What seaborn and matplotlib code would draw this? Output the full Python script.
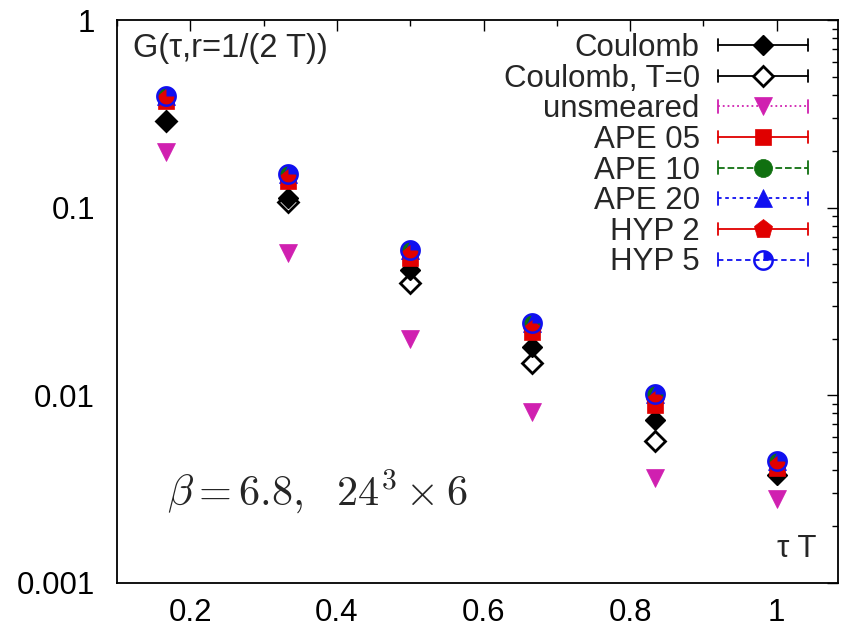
import numpy as np
import pandas as pd
import matplotlib
matplotlib.use("Agg")
import matplotlib.pyplot as plt
import seaborn as sns
from matplotlib.lines import Line2D
from matplotlib.path import Path
from matplotlib.legend_handler import HandlerLine2D
from matplotlib.ticker import FixedLocator, FuncFormatter, MultipleLocator, LogLocator, NullFormatter

# ---------------- data ----------------
tauT = [1/6, 2/6, 3/6, 4/6, 5/6, 1.0]
coulomb    = [0.289, 0.112, 0.0463, 0.0180, 0.0074, 0.00377]
coulomb_T0 = [0.289, 0.107, 0.0399, 0.0149, 0.0057, np.nan]
unsmeared  = [0.197, 0.057, 0.0200, 0.0081, 0.0036, 0.0028]
ape05      = [0.370, 0.138, 0.0536, 0.0216, 0.0089, 0.0041]
ape10      = [0.393, 0.152, 0.0592, 0.0244, 0.0101, 0.00448]
ape20      = [0.393, 0.152, 0.0592, 0.0244, 0.0101, 0.00448]
hyp2       = [0.380, 0.143, 0.0557, 0.0224, 0.0093, 0.0042]
hyp5       = [0.393, 0.152, 0.0592, 0.0244, 0.0101, 0.00448]

labels = ["Coulomb", "Coulomb, T=0", "unsmeared", "APE 05", "APE 10",
          "APE 20", "HYP 2", "HYP 5"]
xticks = [0.2, 0.4, 0.6, 0.8, 1.0]
yticks = [0.001, 0.01, 0.1, 1]

# ---------------- style ----------------
sns.set_theme(style="white")
plt.rcParams['font.family'] = ['Liberation Sans', 'DejaVu Sans']
plt.rcParams['mathtext.fontset'] = 'cm'

FS = 22.5

# half-filled circle marker (ring + filled upper-right quadrant)
def hyp5_marker():
    n = 64
    t = np.linspace(0, 2*np.pi, n)
    outer = np.c_[np.cos(t), np.sin(t)]
    inner = np.c_[0.76*np.cos(t[::-1]), 0.76*np.sin(t[::-1])]
    tw = np.linspace(0, np.pi/2, 20)
    wedge = np.vstack([[0, 0], np.c_[0.76*np.cos(tw), 0.76*np.sin(tw)], [0, 0]])
    verts, codes = [], []
    for poly in (outer, inner, wedge):
        verts.extend(poly.tolist())
        codes.extend([Path.MOVETO] + [Path.LINETO]*(len(poly)-2) + [Path.CLOSEPOLY])
    return Path(verts, codes)

HYP5M = hyp5_marker()

styles = [
    dict(color="black", ls="-", marker="D", ms=10, mfc="black", mec="black", mew=1.0),
    dict(color="black", ls="-", marker="D", ms=10, mfc="white", mec="black", mew=2.0),
    dict(color="#d020b0", ls=":", marker="v", ms=13, mfc="#d020b0", mec="#d020b0", mew=0.5),
    dict(color="#e00000", ls="-", marker="s", ms=12, mfc="#e00000", mec="#e00000", mew=0.5),
    dict(color="#107010", ls="--", marker="o", ms=13, mfc="#107010", mec="#107010", mew=0.5),
    dict(color="#1010f0", ls=(0, (2, 2)), marker="^", ms=13, mfc="#1010f0", mec="#1010f0", mew=0.5),
    dict(color="#e00000", ls="-", marker="p", ms=14, mfc="#e00000", mec="#e00000", mew=0.5),
    dict(color="#1010f0", ls=(0, (3, 2)), marker=HYP5M, ms=15, mfc="#1010f0", mec="#1010f0", mew=0.0),
]
series = [coulomb, coulomb_T0, unsmeared, ape05, ape10, ape20, hyp2, hyp5]
# drawing order: open T=0 diamonds below the filled Coulomb ones
draw_order = [1, 0, 2, 3, 4, 5, 6, 7]

fig = plt.figure(figsize=(8.54, 6.3), dpi=100)
ax = fig.add_axes([0.137, 0.075, 0.844, 0.893])

for i in draw_order:
    st = styles[i]
    df = pd.DataFrame({"x": tauT, "y": series[i]}).dropna()
    sns.lineplot(data=df, x="x", y="y", ax=ax, linestyle="none", legend=False,
                 marker=st["marker"], markersize=st["ms"],
                 markerfacecolor=st["mfc"], markeredgecolor=st["mec"],
                 markeredgewidth=st["mew"], color=st["color"], zorder=3)

ax.set_yscale("log")
ax.set_xlim(0.1, 1.0833)
ax.set_ylim(0.001, 1)
ax.xaxis.set_major_locator(FixedLocator(xticks))
ax.xaxis.set_minor_locator(MultipleLocator(0.1))
ax.xaxis.set_major_formatter(FuncFormatter(lambda v, p: f"{v:g}"))
ax.yaxis.set_major_locator(FixedLocator(yticks))
ax.yaxis.set_minor_locator(LogLocator(base=10, subs=np.arange(2, 10)))
ax.yaxis.set_minor_formatter(NullFormatter())
ax.yaxis.set_major_formatter(FuncFormatter(lambda v, p: f"{v:g}"))
ax.set_xlabel("")
ax.set_ylabel("")
ax.tick_params(which="both", direction="in", top=True, right=True,
               labelsize=FS, colors="black", width=1.0)
ax.tick_params(which="major", length=8)
ax.tick_params(axis="x", which="major", pad=11)
ax.tick_params(axis="y", which="major", pad=16)
ax.tick_params(which="minor", length=4)
for s in ax.spines.values():
    s.set_color("black")
    s.set_linewidth(1.3)
ax.grid(False)

# ---------------- legend ----------------
class CapHandler(HandlerLine2D):
    def create_artists(self, legend, orig_handle, xdescent, ydescent,
                       width, height, fontsize, trans):
        arts = super().create_artists(legend, orig_handle, xdescent, ydescent,
                                      width, height, fontsize, trans)
        y = height/2 - ydescent
        c = 4.5
        for x in (-xdescent, width - xdescent):
            cap = Line2D([x, x], [y - c, y + c], color=orig_handle.get_color(),
                         lw=1.3, transform=trans)
            arts.append(cap)
        return arts

handles = []
for st in styles:
    handles.append(Line2D([], [], color=st["color"], ls=st["ls"], lw=1.3,
                          marker=st["marker"], markersize=st["ms"],
                          markerfacecolor=st["mfc"], markeredgecolor=st["mec"],
                          markeredgewidth=st["mew"]))
leg = ax.legend(handles, labels, loc="upper right", bbox_to_anchor=(0.958, 0.977),
                frameon=False, fontsize=FS, markerfirst=False, numpoints=1,
                handlelength=2.85, handletextpad=0.6, labelspacing=0.02,
                borderpad=0.0, borderaxespad=0.0,
                handler_map={Line2D: CapHandler()})

# ---------------- texts ----------------
ax.text(0.022, 0.95, "G(τ,r=1/(2 T))", transform=ax.transAxes, fontsize=23.5,
        ha="left", va="center")
ax.text(0.07, 0.162, r"$\beta=6.8,\ \ 24^3\times 6$", transform=ax.transAxes,
        fontsize=30.5, ha="left", va="center")
ax.text(0.97, 0.06, "τ T", transform=ax.transAxes, fontsize=FS,
        ha="right", va="center")

fig.savefig("out.png", dpi=100)
